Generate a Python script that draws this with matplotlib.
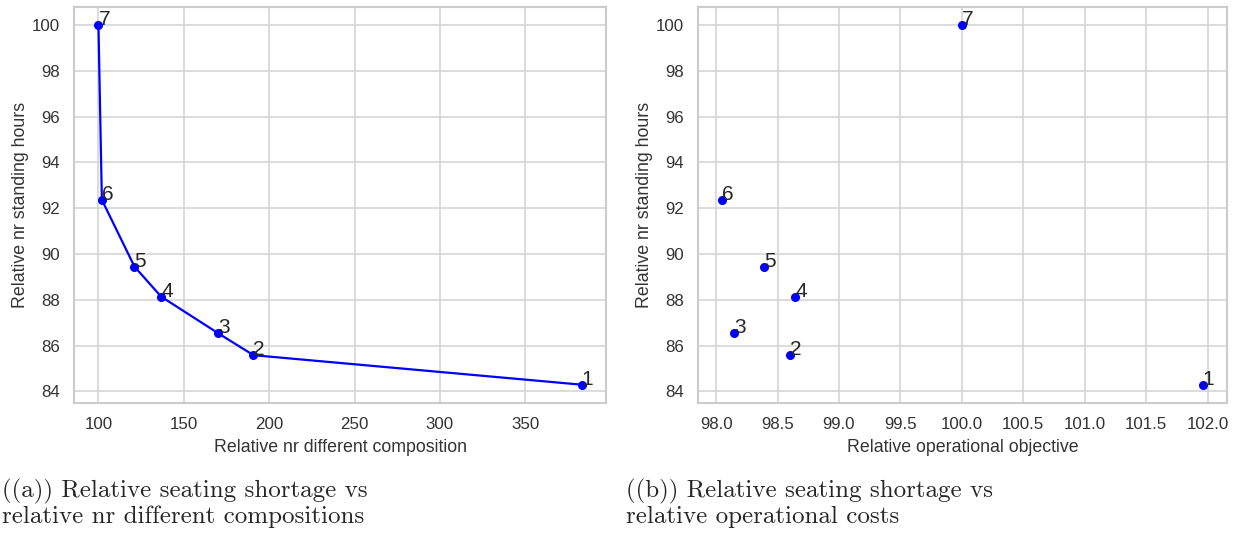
import matplotlib
matplotlib.use("Agg")
import matplotlib.pyplot as plt
import seaborn as sns

# solution numbers and their relative scores
labels = ["1", "2", "3", "4", "5", "6", "7"]
rel_compositions = [383.1, 190.8, 170.3, 136.7, 121.1, 102.0, 100.0]
rel_standing = [84.29, 85.58, 86.53, 88.14, 89.45, 92.37, 100.0]
rel_operational = [101.96, 98.60, 98.145, 98.645, 98.39, 98.05, 100.0]

captions = [
    "((a)) Relative seating shortage vs\nrelative nr different compositions",
    "((b)) Relative seating shortage vs\nrelative operational costs",
]

sns.set_style("whitegrid")
plt.rcParams["font.family"] = ["Liberation Sans", "DejaVu Sans"]

fig = plt.figure(figsize=(12.38, 5.33), dpi=100)
ax1 = fig.add_axes([0.060, 0.2445, 0.4295, 0.742])
ax2 = fig.add_axes([0.564, 0.2445, 0.4268, 0.742])


def style_axis(ax, xlabel):
    ax.set_xlabel(xlabel, fontsize=12.8, color="#333333", labelpad=5)
    ax.set_ylabel("Relative nr standing hours", fontsize=12.8, color="#333333",
                  labelpad=2)
    ax.tick_params(labelsize=12.2, colors="#333333", pad=7)
    for s in ax.spines.values():
        s.set_color("#cccccc")
        s.set_linewidth(1.5)
    ax.grid(True, color="#d5d5d5", linewidth=1.2)


# (a) pareto front with line
ax1.plot(rel_compositions, rel_standing, "o-", color="#0000ff", lw=1.6, ms=5.5)
for lab, x, y in zip(labels, rel_compositions, rel_standing):
    ax1.annotate(lab, (x, y), fontsize=15, color="#262626")
style_axis(ax1, "Relative nr different composition")
ax1.set_yticks(range(84, 101, 2))

# (b) scatter only
ax2.plot(rel_operational, rel_standing, "o", color="#0000ff", ms=5.5)
for lab, x, y in zip(labels, rel_operational, rel_standing):
    ax2.annotate(lab, (x, y), fontsize=15, color="#262626")
style_axis(ax2, "Relative operational objective")
ax2.set_yticks(range(84, 101, 2))
ax2.set_xticks([98.0 + 0.5 * i for i in range(9)])
ax2.set_xticklabels([f"{98.0 + 0.5 * i:.1f}" for i in range(9)])

fig.text(0.002, 0.009, captions[0], fontsize=18, family="cmr10",
         ha="left", va="bottom", linespacing=1.12)
fig.text(0.5057, 0.009, captions[1], fontsize=18, family="cmr10",
         ha="left", va="bottom", linespacing=1.12)

fig.savefig("out.png", dpi=100)
